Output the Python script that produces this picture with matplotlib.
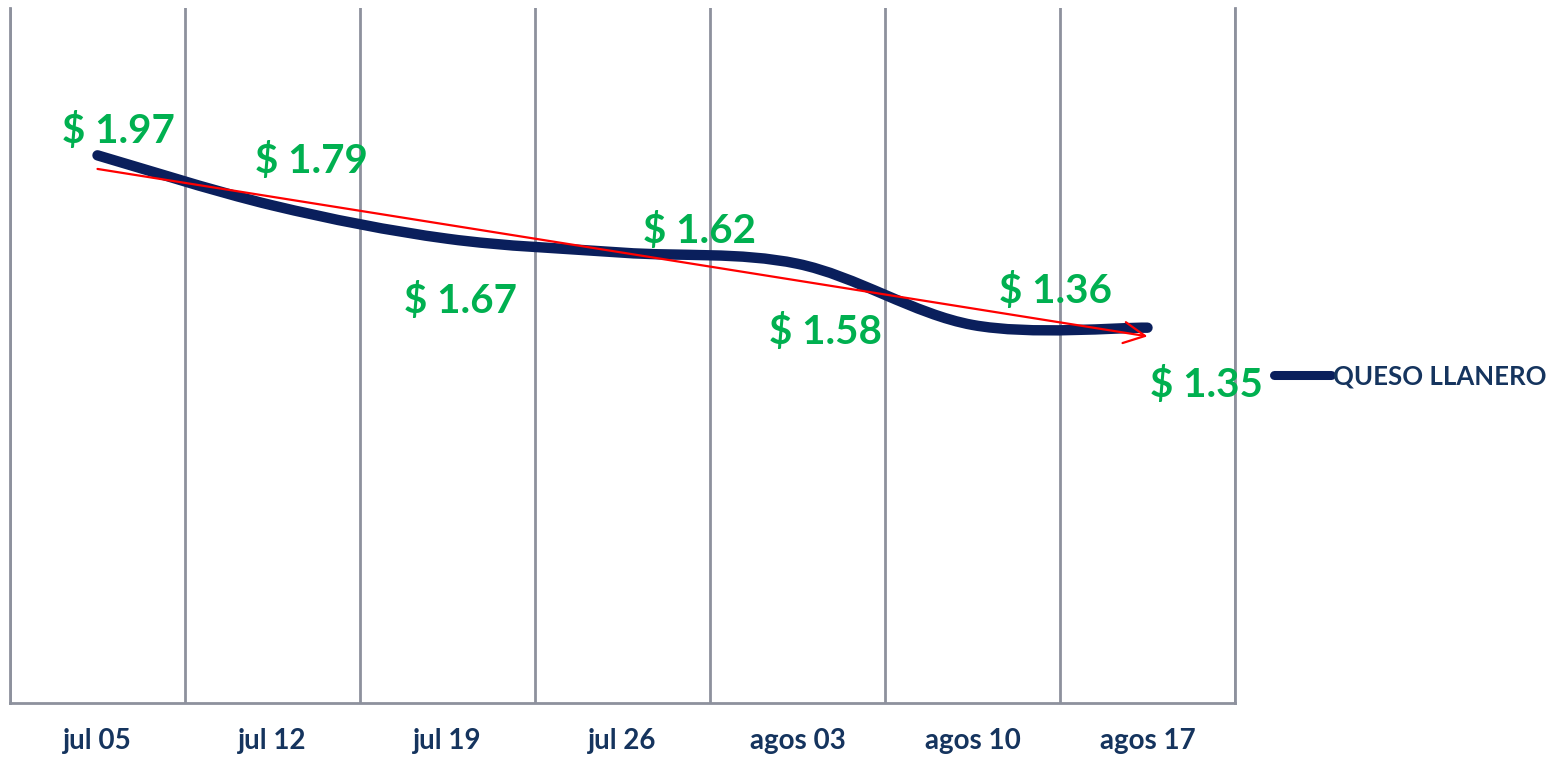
import matplotlib.pyplot as plt
from matplotlib.path import Path
from matplotlib.patches import PathPatch
from matplotlib.lines import Line2D
import numpy as np

# data
fechas = ['jul 05', 'jul 12', 'jul 19', 'jul 26', 'agos 03', 'agos 10', 'agos 17']
precios = [1.97, 1.79, 1.67, 1.62, 1.58, 1.36, 1.35]
serie = 'QUESO LLANERO'

# label offsets (pixels, relative to each point; y is the text baseline)
label_dx = [21, 39, 13, 77, 28, 83, 59]
label_dy = [12, 32, -74, 10, -80, 22, -69]

navy = '#0A1F5C'
texto = '#15345E'
verde = '#00B050'
gris = '#8D919D'

plt.rcParams['font.family'] = ['Lato', 'DejaVu Sans']

fig = plt.figure(figsize=(15.49, 7.57), dpi=100)
ax = fig.add_axes([10/1549, (757-703)/757, (1235-10)/1549, (703-8)/757])

x = np.arange(len(precios))
y = np.array(precios)

# smoothed line (catmull-rom style bezier, like excel)
verts = [(x[0], y[0])]
codes = [Path.MOVETO]
for i in range(len(x)-1):
  p0 = np.array([x[max(i-1, 0)], y[max(i-1, 0)]])
  p1 = np.array([x[i], y[i]])
  p2 = np.array([x[i+1], y[i+1]])
  p3 = np.array([x[min(i+2, len(x)-1)], y[min(i+2, len(x)-1)]])
  c1 = p1 + (p2 - p0) / 6
  c2 = p2 - (p3 - p1) / 6
  verts += [tuple(c1), tuple(c2), tuple(p2)]
  codes += [Path.CURVE4] * 3
ax.add_patch(PathPatch(Path(verts, codes), facecolor='none', edgecolor=navy,
                       lw=7.5, capstyle='round', joinstyle='round', zorder=3))

# linear trend with arrow
m, b = np.polyfit(x, y, 1)
ax.annotate('', xy=(x[-1], m*x[-1]+b), xytext=(x[0], m*x[0]+b),
            arrowprops=dict(arrowstyle='->', color='#FF0000', lw=1.6,
                            mutation_scale=38, shrinkA=0, shrinkB=0), zorder=4)

for i in range(len(x)):
  ax.annotate('$ %.2f' % precios[i], xy=(x[i], y[i]),
              xytext=(label_dx[i], label_dy[i]), textcoords='offset pixels',
              ha='center', va='baseline', color=verde, fontsize=29,
              fontweight='bold', zorder=5)

ax.set_xlim(-0.5, len(x)-0.5)
ax.set_ylim(0, 2.5)
ax.set_xticks(x)
ax.set_xticklabels(fechas, fontsize=20, fontweight='bold', color=texto)
ax.tick_params(axis='x', length=0, pad=18)
ax.set_yticks([])
ax.set_xticks(np.arange(len(x)+1) - 0.5, minor=True)
ax.tick_params(axis='x', which='minor', length=0)
ax.grid(axis='x', which='minor', color=gris, lw=2)
ax.spines['top'].set_visible(False)
for s in ['left', 'bottom', 'right']:
  ax.spines[s].set_color(gris)
  ax.spines[s].set_linewidth(2)

handle = Line2D([], [], color=navy, lw=6.5, solid_capstyle='round')
leg = fig.legend([handle], [serie], loc='center left',
                 bbox_to_anchor=(1274/1549, 1-376/757), frameon=False,
                 handlelength=2.2, handletextpad=0.1, borderpad=0, borderaxespad=0,
                 prop={'size': 18.5, 'weight': 'bold'})
for t in leg.get_texts():
  t.set_color(texto)

plt.savefig('out.png')
plt.close()
